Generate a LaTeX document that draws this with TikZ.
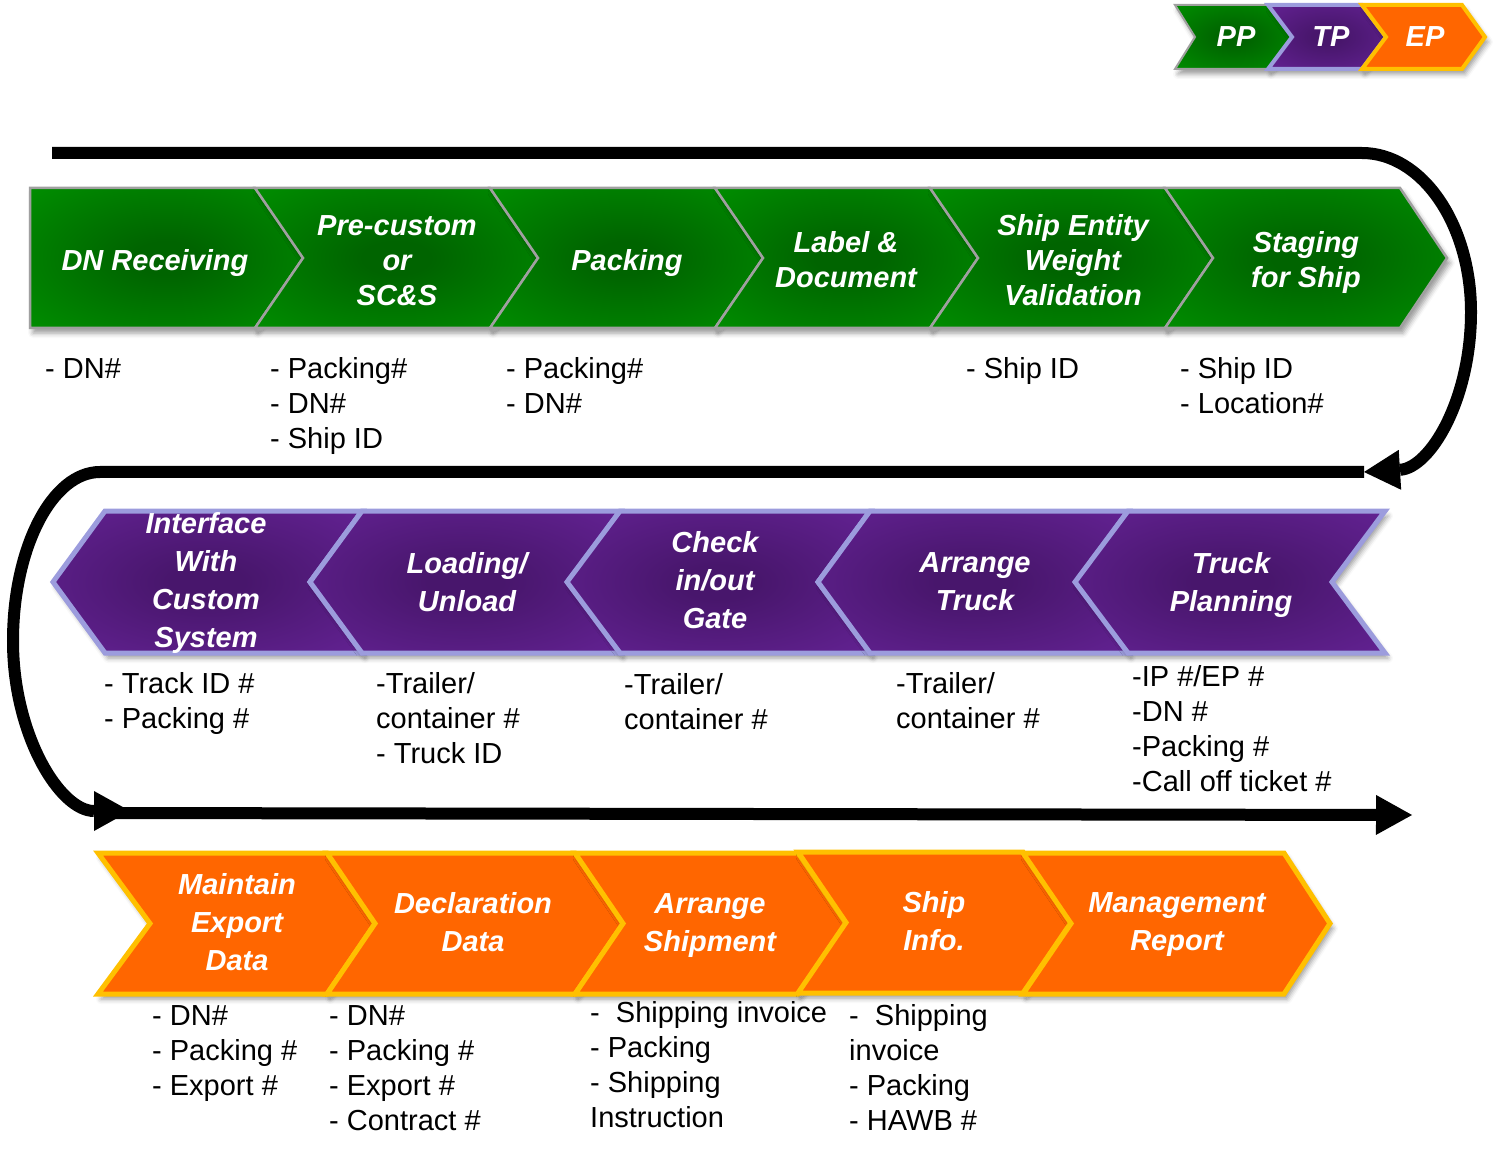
\documentclass[tikz,border=0pt]{standalone}
\usepackage{fontspec}
\setmainfont{Liberation Sans}
\usetikzlibrary{arrows.meta,shadows.blur}

% palette
\definecolor{gdark}{HTML}{006400}
\definecolor{glight}{HTML}{009C00}
\definecolor{gedge}{HTML}{A0A0A0}
\definecolor{pdark}{HTML}{48166C}
\definecolor{plight}{HTML}{6C26A0}
\definecolor{pedge}{HTML}{9C9CDD}
\definecolor{ofill}{HTML}{FF6600}
\definecolor{oedge}{HTML}{FFC000}

% soft radial glows for the chevron bodies
\pgfdeclareradialshading{greenglow}{\pgfpoint{0bp}{0bp}}{color(0bp)=(gdark); color(6bp)=(gdark); color(46bp)=(glight); color(50bp)=(glight)}
\pgfdeclareradialshading{purpleglow}{\pgfpoint{0bp}{0bp}}{color(0bp)=(pdark); color(6bp)=(pdark); color(46bp)=(plight); color(50bp)=(plight)}

% right-pointing chevron: options, left x, right x, top y, bottom y, tip depth, notch depth
\newcommand{\chevright}[7]{%
  \path[#1] (#2,#4) -- (#3,#4) -- ({#3+#6},{(#4+#5)/2}) -- (#3,#5) -- (#2,#5)
    -- ({#2+#7},{(#4+#5)/2}) -- cycle;}
% left-pointing chevron: options, left x, right x, top y, bottom y, tip depth, notch depth
\newcommand{\chevleft}[7]{%
  \path[#1] (#2,#4) -- (#3,#4) -- ({#3-#7},{(#4+#5)/2}) -- (#3,#5) -- (#2,#5)
    -- ({#2-#6},{(#4+#5)/2}) -- cycle;}

\tikzset{
  soft/.style={blur shadow={shadow xshift=3pt, shadow yshift=-5pt, shadow blur radius=5pt}},
  greenstep/.style={soft, shade, shading=greenglow, draw=gedge, line width=2.5pt, line join=miter},
  purplestep/.style={soft, shade, shading=purpleglow, draw=pedge, line width=5pt, line join=miter},
  orangestep/.style={soft, fill=ofill, draw=oedge, line width=5pt, line join=miter},
  lab/.style={text=white, inner sep=0pt, align=center,
    font=\fontsize{29}{35}\selectfont\bfseries\itshape},
  labwide/.style={lab, font=\fontsize{29}{38}\selectfont\bfseries\itshape},
  desc/.style={anchor=north west, inner sep=0pt, align=left,
    font=\fontsize{29}{35}\selectfont},
  flowline/.style={line width=12pt, black},
  flowhead/.style={-{Triangle[length=36pt,width=40pt,line width=0pt]}}
}

\begin{document}
\begin{tikzpicture}[x=1pt, y=-1pt]
\useasboundingbox (0,0) rectangle (1500,1155);

% ---- legend ----
\chevright{greenstep, line width=2pt}{1175}{1268}{5}{69}{24}{20}
\chevright{purplestep, line width=4pt}{1268}{1362}{5}{69}{24}{24}
\chevright{orangestep, line width=4pt}{1362}{1462}{5}{69}{23}{24}
\node[lab] (pp) at (1236,37) {PP};
\node[lab] (tp) at (1331,37) {TP};
\node[lab] (ep) at (1425,37) {EP};

% ---- flow lines ----
\coordinate (t0) at (52,153);
\coordinate (t1) at (1362,153);
\coordinate (m1) at (1364,472);
\coordinate (m0) at (100,472);
\coordinate (btip) at (130,811);
\coordinate (b0) at (100,813);
\coordinate (b1) at (1412,815);

\draw[flowline, flowhead] (t0) -- (t1)
  .. controls (1422,153) and (1471,224) .. (1471,312)
  .. controls (1471,400) and (1430,468) .. (m1);
\draw[flowline, flowhead] (m1) -- (m0)
  .. controls (52,472) and (13,548) .. (13,641)
  .. controls (13,735) and (60,811) .. (btip);
\draw[flowline, flowhead] (b0) -- (b1);

% ---- row 1: green ----
\chevright{greenstep}{30}{255}{188}{328}{48}{0}
\chevright{greenstep}{255}{490}{188}{328}{48}{48}
\chevright{greenstep}{490}{715}{188}{328}{48}{48}
\chevright{greenstep}{715}{930}{188}{328}{48}{48}
\chevright{greenstep}{930}{1165}{188}{328}{48}{48}
\chevright{greenstep}{1165}{1400}{188}{328}{47}{48}

\node[lab] (g1) at (155,263) {DN Receiving};
\node[lab] (g2) at (397,261) {Pre-custom\\or\\SC\&S};
\node[lab] (g3) at (627,263) {Packing};
\node[lab] (g4) at (846,260) {Label \&\\Document};
\node[lab] (g5) at (1073,260) {Ship Entity\\Weight\\Validation};
\node[lab] (g6) at (1306,263) {Staging\\for Ship};

\node[desc] (gd1) at (45,354) {\strut - DN\#};
\node[desc] (gd2) at (270,354) {\strut - Packing\#\\- DN\#\\- Ship ID};
\node[desc] (gd3) at (506,354) {\strut - Packing\#\\- DN\#};
\node[desc] (gd5) at (966,354) {\strut - Ship ID};
\node[desc] (gd6) at (1180,354) {\strut - Ship ID\\- Location\#};

% ---- row 2: purple ----
\chevleft{purplestep}{105}{362}{511}{653}{52}{52}
\chevleft{purplestep}{362}{620}{511}{653}{52}{52}
\chevleft{purplestep}{620}{870}{511}{653}{53}{52}
\chevleft{purplestep}{870}{1128}{511}{653}{52}{52}
\chevleft{purplestep}{1128}{1385}{511}{653}{53}{53}

\node[labwide] (p1) at (206,583) {Interface\\With\\Custom\\System};
\node[labwide] (p2) at (467,582) {Loading/\\Unload};
\node[labwide] (p3) at (715,580) {Check\\in/out\\Gate};
\node[labwide] (p4) at (975,582) {Arrange\\Truck};
\node[labwide] (p5) at (1231,585) {Truck\\Planning};

\node[desc] (pd1) at (104,669) {\strut - Track ID \#\\- Packing \#};
\node[desc] (pd2) at (376,669) {\strut -Trailer/\\container \#\\- Truck ID};
\node[desc] (pd3) at (624,670) {\strut -Trailer/\\container \#};
\node[desc] (pd4) at (896,669) {\strut -Trailer/\\container \#};
\node[desc] (pd5) at (1132,662) {\strut -IP \#/EP \#\\-DN \#\\-Packing \#\\-Call off ticket \#};

% ---- row 3: orange ----
\chevright{orangestep}{98}{327}{853}{994}{48}{52}
\chevright{orangestep}{327}{575}{853}{994}{48}{48}
\chevright{orangestep}{575}{798}{853}{994}{48}{48}
\chevright{orangestep}{798}{1023}{852}{993}{48}{48}
\chevright{orangestep}{1023}{1284}{853}{994}{46}{48}

\node[labwide] (o1) at (237,922) {Maintain\\Export\\Data};
\node[labwide] (o2) at (473,922) {Declaration\\Data};
\node[labwide] (o3) at (710,926) {Arrange\\Shipment};
\node[labwide] (o4) at (934,921) {Ship\\Info.};
\node[labwide] (o5) at (1177,925) {Management\\Report};

\node[desc] (od1) at (152,1001) {\strut - DN\#\\- Packing \#\\- Export \#};
\node[desc] (od2) at (329,1001) {\strut - DN\#\\- Packing \#\\- Export \#\\- Contract \#};
\node[desc] (od3) at (590,998) {\strut -\ \ Shipping invoice\\- Packing\\- Shipping\\Instruction};
\node[desc] (od4) at (849,1001) {\strut -\ \ Shipping\\invoice\\- Packing\\- HAWB \#};

\end{tikzpicture}
\end{document}
